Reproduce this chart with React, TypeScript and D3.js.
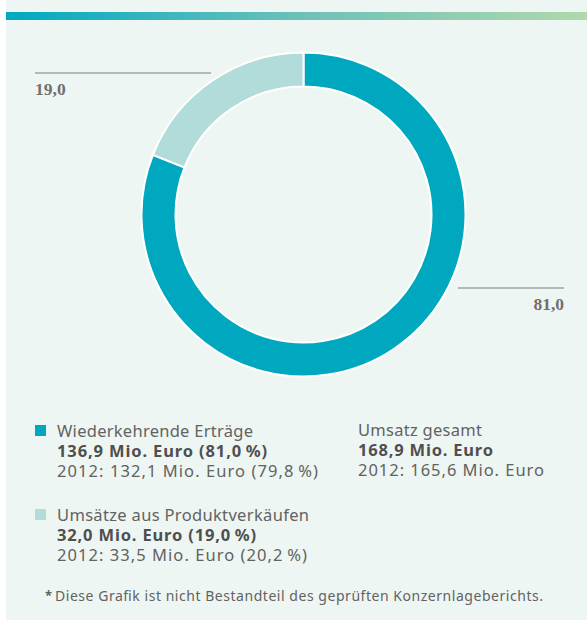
import React from "react";
import * as d3 from "d3";

const categories = ["Wiederkehrende Erträge", "Umsätze aus Produktverkäufen"];
const shares = [81.0, 19.0];
const shareLabels = ["81,0", "19,0"];
const colors = ["#00a8bf", "#b1dcd9"];
const valueLines = ["136,9 Mio. Euro (81,0\u2009%)", "32,0 Mio. Euro (19,0\u2009%)"];
const priorLines = ["2012: 132,1 Mio. Euro (79,8\u2009%)", "2012: 33,5 Mio. Euro (20,2\u2009%)"];
const totalLines = ["Umsatz gesamt", "168,9 Mio. Euro", "2012: 165,6 Mio. Euro"];
const footnote = "Diese Grafik ist nicht Bestandteil des geprüften Konzernlageberichts.";

// layout: rendered widths of text lines (to mimic the original typeface's spacing)
const legendWidths = [
  [196, 210, 261],
  [252, 199, 250],
];
const totalWidths = [124, 135, 186];
const footnoteWidth = 488;

const W = 587;
const H = 620;
const cx = 303.5;
const cy = 214.5;
const rOuter = 162;
const rInner = 128;

const sansFont = "'Noto Sans', sans-serif";
const serifFont = "'Liberation Serif', serif";

export default function App() {
  const pie = d3
    .pie<number>()
    .sort(null)
    .value((d) => d)
    .startAngle(0)
    .endAngle(2 * Math.PI);
  const arcs = pie(shares);
  const arc = d3.arc<d3.PieArcDatum<number>>().innerRadius(rInner).outerRadius(rOuter);

  const labelLayout = [
    { x1: 458, x2: 564, y: 288, tx: 564, anchor: "end" },
    { x1: 35, x2: 211, y: 73, tx: 35, anchor: "start" },
  ];

  const legendTop = [437, 521];
  const normalFill = "#626262";
  const boldFill = "#4f4f4f";

  return (
    <svg
      width={W}
      height={H}
      style={{ position: "absolute", left: 0, top: 0, display: "block" }}
    >
      <defs>
        <linearGradient id="topbar" x1="0" x2="1" y1="0" y2="0">
          <stop offset="0" stopColor="#00a9c1" />
          <stop offset="0.5" stopColor="#6cc0b9" />
          <stop offset="1" stopColor="#b0d9ab" />
        </linearGradient>
      </defs>
      <rect x={0} y={0} width={W} height={H} fill="#ffffff" />
      <rect x={6} y={0} width={W - 6} height={H} fill="#eef6f3" />
      <rect x={6} y={12} width={W - 6} height={8} fill="url(#topbar)" />

      <g transform={`translate(${cx},${cy})`}>
        {arcs.map((a, i) => (
          <path key={i} d={arc(a) || ""} fill={colors[i]} stroke="#ffffff" strokeWidth={2} />
        ))}
      </g>

      {labelLayout.map((l, i) => (
        <g key={i}>
          <line x1={l.x1} x2={l.x2} y1={l.y} y2={l.y} stroke="#a3a3a3" strokeWidth={1.5} />
          <text
            x={l.tx}
            y={l.y + 22}
            textAnchor={l.anchor as any}
            fontFamily={serifFont}
            fontWeight="bold"
            fontSize={17.5}
            fill="#707070"
          >
            {shareLabels[i]}
          </text>
        </g>
      ))}

      {categories.map((c, i) => (
        <g key={c}>
          <rect x={35} y={legendTop[i] - 12} width={11} height={11} fill={colors[i]} />
          <text
            x={57}
            y={legendTop[i]}
            fontFamily={sansFont}
            fontSize={16.5}
            fill={normalFill}
            textLength={legendWidths[i][0]}
            lengthAdjust="spacing"
          >
            {c}
          </text>
          <text
            x={57}
            y={legendTop[i] + 20}
            fontFamily={sansFont}
            fontSize={16.5}
            fontWeight="bold"
            fill={boldFill}
            textLength={legendWidths[i][1]}
            lengthAdjust="spacing"
          >
            {valueLines[i]}
          </text>
          <text
            x={57}
            y={legendTop[i] + 40}
            fontFamily={sansFont}
            fontSize={16.5}
            fill={normalFill}
            textLength={legendWidths[i][2]}
            lengthAdjust="spacing"
          >
            {priorLines[i]}
          </text>
        </g>
      ))}

      {totalLines.map((t, i) => (
        <text
          key={t}
          x={358}
          y={436 + i * 20}
          fontFamily={sansFont}
          fontSize={16.5}
          fontWeight={i === 1 ? "bold" : "normal"}
          fill={i === 1 ? boldFill : normalFill}
          textLength={totalWidths[i]}
          lengthAdjust="spacing"
        >
          {t}
        </text>
      ))}

      <text x={45} y={600} fontFamily={sansFont} fontSize={13} fontWeight="bold" fill={normalFill}>
        *
      </text>
      <text
        x={55}
        y={601}
        fontFamily={sansFont}
        fontSize={14}
        fill={normalFill}
        textLength={footnoteWidth}
        lengthAdjust="spacing"
      >
        {footnote}
      </text>
    </svg>
  );
}
